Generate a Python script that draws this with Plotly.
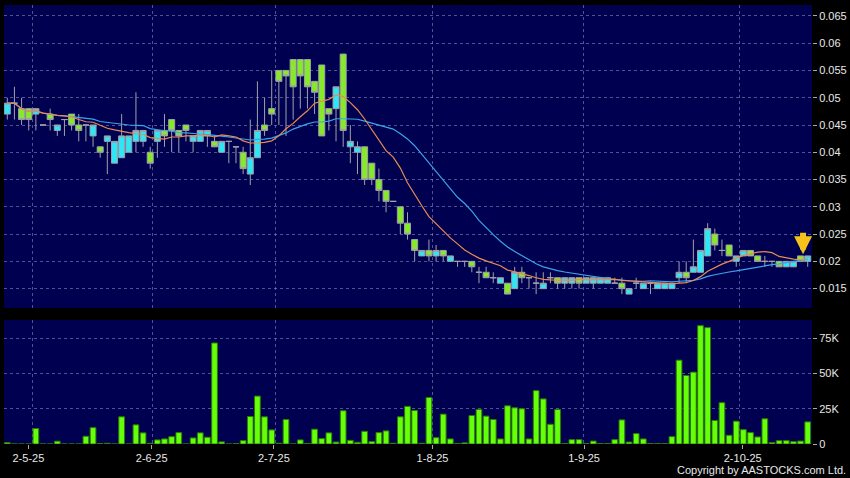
import plotly.graph_objects as go
import pandas as pd

# ---------------- data ----------------
open_ = [
    .047, .049, .048, .048, .047, .045, .047, .044, .046, .047,
    .045, .045, .043, .041, .042, .038, .039, .040, .042, .042,
    .040, .042, .044, .046, .044, .045, .042, .042, .043, .042,
    .040, .042, .041, .040, .036, .039, .045, .048, .055, .055,
    .057, .057, .057, .053, .056, .048, .048, .058, .041, .040,
    .041, .038, .035, .033, .031, .030, .027, .024, .021, .022,
    .021, .022, .020, .020, .020, .020, .018, .018, .017, .016,
    .016, .015, .018, .017, .016, .015, .017, .017, .016, .016,
    .017, .016, .016, .016, .016, .016, .016, .014, .016, .015,
    .016, .015, .015, .015, .017, .018, .018, .018, .021, .025,
    .022, .023, .020, .021, .022, .021, .020, .020, .020, .019,
    .019, .021, .020]
high = [
    .050, .052, .050, .048, .048, .045, .048, .045, .046, .047,
    .047, .045, .045, .041, .043, .042, .047, .043, .051, .044,
    .041, .044, .047, .046, .044, .045, .043, .044, .044, .043,
    .042, .042, .041, .041, .046, .053, .050, .055, .055, .055,
    .057, .057, .057, .053, .056, .048, .052, .058, .045, .042,
    .041, .038, .037, .033, .031, .030, .029, .024, .022, .024,
    .023, .022, .021, .020, .020, .020, .019, .019, .018, .017,
    .016, .019, .019, .017, .018, .018, .018, .017, .017, .017,
    .017, .017, .017, .017, .017, .017, .017, .015, .017, .016,
    .016, .016, .016, .016, .020, .020, .024, .022, .027, .026,
    .024, .023, .021, .022, .022, .021, .021, .020, .020, .020,
    .020, .021, .021]
low = [
    .046, .046, .045, .044, .044, .045, .044, .043, .043, .044,
    .042, .042, .041, .039, .036, .038, .039, .040, .040, .041,
    .037, .039, .041, .040, .040, .042, .040, .042, .041, .041,
    .040, .038, .038, .036, .034, .039, .043, .045, .045, .043,
    .046, .048, .048, .047, .043, .044, .042, .041, .038, .036,
    .034, .034, .031, .029, .031, .025, .024, .020, .021, .020,
    .020, .020, .020, .019, .019, .018, .016, .017, .016, .016,
    .014, .015, .016, .015, .014, .015, .016, .015, .015, .015,
    .015, .016, .015, .016, .016, .016, .014, .014, .015, .015,
    .014, .015, .015, .015, .016, .016, .018, .018, .021, .022,
    .021, .021, .019, .021, .021, .020, .019, .019, .019, .019,
    .019, .020, .019]
close = [
    .049, .049, .046, .046, .048, .045, .046, .045, .046, .045,
    .044, .045, .045, .040, .043, .042, .043, .043, .044, .044,
    .038, .044, .043, .044, .043, .044, .043, .044, .044, .041,
    .042, .042, .041, .037, .039, .044, .044, .047, .053, .054,
    .052, .054, .052, .051, .043, .047, .052, .044, .042, .041,
    .035, .035, .033, .031, .031, .027, .025, .022, .022, .021,
    .022, .021, .021, .020, .020, .019, .018, .017, .017, .017,
    .014, .018, .017, .017, .016, .016, .017, .016, .017, .017,
    .016, .017, .017, .017, .017, .016, .015, .015, .016, .016,
    .016, .016, .016, .016, .018, .017, .019, .022, .026, .023,
    .022, .021, .021, .022, .021, .020, .020, .020, .019, .020,
    .020, .020, .021]
volume_k = [
    1.0, 0, 0, 0, 11.0, 0, 0, 2.0, 0, 0,
    0, 5.5, 11.6, 0.3, 0.5, 0, 19.3, 0, 13.6, 7.9,
    0.5, 2.9, 3.6, 5.2, 8.1, 0, 4.3, 7.9, 4.8, 71.7,
    1.5, 0, 0.3, 2.4, 19.5, 34.0, 19.3, 10.0, 0.5, 17.4,
    0, 2.9, 0.4, 10.5, 3.8, 7.9, 1.4, 23.6, 2.6, 1.2,
    9.0, 1.7, 8.1, 9.3, 0.5, 19.3, 26.7, 23.8, 0.5, 33.0,
    4.5, 21.2, 3.6, 0.3, 0.8, 20.2, 24.5, 19.8, 17.4, 3.6,
    27.1, 25.7, 25.0, 3.6, 37.9, 32.0, 14.0, 24.5, 0.3, 3.1,
    3.1, 0.3, 2.1, 0.3, 0.3, 3.1, 17.1, 1.4, 7.4, 3.6,
    0.3, 0.3, 0.3, 5.2, 59.5, 48.6, 51.0, 84.0, 82.6, 16.7,
    29.3, 6.2, 16.2, 10.2, 8.1, 5.0, 17.9, 1.0, 2.4, 2.4,
    1.7, 2.1, 15.7]

month_grid_pos = [3.5, 20.3, 37.5, 59.5, 80.6, 102.5]
date_label_pos = [2.95, 20.2, 37.3, 59.5, 80.7, 102.9]
date_tick_text = ["2-5-25", "2-6-25", "2-7-25", "1-8-25", "1-9-25", "2-10-25"]
price_ticks = [0.015, 0.02, 0.025, 0.03, 0.035, 0.04, 0.045, 0.05, 0.055, 0.06, 0.065]
price_tick_text = ["0.015", "0.02", "0.025", "0.03", "0.035", "0.04", "0.045", "0.05", "0.055", "0.06", "0.065"]
vol_ticks = [0, 25000, 50000, 75000]
vol_tick_text = ["0", "25K", "50K", "75K"]

# ---------------- derived ----------------
idx = list(range(len(close)))
cs = pd.Series(close)
ma10 = cs.rolling(10, min_periods=1).mean()
ma20 = cs.rolling(20, min_periods=1).mean()
volume = [v * 1000 for v in volume_k]

# ---------------- style ----------------
BG = "#000000"
PANEL = "#000050"
CYAN = "#2ee6f6"
GREEN = "#86ea2a"
WICK = "#a0a0a8"
VOLG = "#66ff0a"
GRID = "rgba(150,150,200,0.55)"
TXT = "#e8e8e8"
FONT = "Liberation Sans, Arial, sans-serif"

fig = go.Figure()
fig.add_trace(go.Candlestick(
    x=idx, open=open_, high=high, low=low, close=close,
    increasing=dict(fillcolor=CYAN, line=dict(color=WICK, width=1)),
    decreasing=dict(fillcolor=GREEN, line=dict(color=WICK, width=1)),
    whiskerwidth=0, xaxis="x", yaxis="y", showlegend=False, hoverinfo="skip"))
fig.add_trace(go.Scatter(x=idx, y=ma20, mode="lines", line=dict(color="#3aa4ea", width=1.2),
                         xaxis="x", yaxis="y", showlegend=False, hoverinfo="skip"))
fig.add_trace(go.Scatter(x=idx, y=ma10, mode="lines", line=dict(color="#ea8a52", width=1.2),
                         xaxis="x", yaxis="y", showlegend=False, hoverinfo="skip"))
fig.add_trace(go.Bar(x=idx, y=volume, xaxis="x2", yaxis="y2",
                     marker=dict(color=VOLG, line=dict(color="#2c7a06", width=1)),
                     showlegend=False, hoverinfo="skip"))

W, H = 850, 478
L, R = 4, 38
x_range = [-0.46, 112.6]
axis_common = dict(showline=False, zeroline=False, gridcolor=GRID, gridwidth=1, griddash="3px,3px")

fig.update_layout(
    width=W, height=H,
    margin=dict(l=L, r=R, t=0, b=0),
    paper_bgcolor=BG, plot_bgcolor=PANEL,
    boxgap=0.16, boxgroupgap=0, bargap=0.2,
    font=dict(family=FONT, color=TXT, size=11),
    xaxis=dict(domain=[0, 1], range=x_range, anchor="y", tickvals=month_grid_pos,
               showticklabels=False, ticks="", rangeslider=dict(visible=False), **axis_common),
    yaxis=dict(domain=[1 - 308 / H, 1 - 5 / H], range=[0.01145, 0.0670], side="right",
               tickvals=price_ticks, ticktext=price_tick_text, ticks="outside", ticklen=4,
               tickcolor="#aaaaaa", tickfont=dict(size=11, color=TXT, family=FONT),
               automargin=False, **axis_common),
    xaxis2=dict(domain=[0, 1], range=x_range, anchor="y2", matches="x", tickvals=month_grid_pos,
                showticklabels=False, ticks="", automargin=False, **axis_common),
    xaxis3=dict(domain=[0, 1], range=x_range, anchor="y2", overlaying="x2", tickvals=date_label_pos,
                ticktext=date_tick_text, ticks="outside", ticklen=4, tickcolor="#aaaaaa",
                showgrid=False, zeroline=False, showline=False,
                tickfont=dict(size=11, color=TXT, family=FONT), automargin=False),
    yaxis2=dict(domain=[1 - 444 / H, 1 - 320 / H], range=[0, 88000], side="right",
                tickvals=vol_ticks, ticktext=vol_tick_text, ticks="outside", ticklen=4,
                tickcolor="#aaaaaa", tickfont=dict(size=11, color=TXT, family=FONT),
                automargin=False, **axis_common),
    annotations=[
        dict(x=111.35, y=0.0213, xref="x", yref="y", text="", showarrow=True,
             ax=0, ay=-23, arrowhead=2, arrowsize=0.6, arrowwidth=6, arrowcolor="#f5c21c"),
        dict(x=(848 - L) / (W - L - R), y=(H - 470) / H, xref="paper", yref="paper",
             xanchor="right", yanchor="middle", showarrow=False,
             text="Copyright by AASTOCKS.com Ltd.", font=dict(size=11, color=TXT, family=FONT)),
    ],
)
# an invisible helper trace so the overlaying date-label axis is drawn
fig.add_trace(go.Scatter(x=[x_range[0]], y=[0], xaxis="x3", yaxis="y2", mode="markers",
                         marker=dict(opacity=0), showlegend=False, hoverinfo="skip"))

fig.write_html(
    "out.html",
    config={"displayModeBar": False},
    post_script="document.body.style.margin='0';document.body.style.background='#000';",
)
